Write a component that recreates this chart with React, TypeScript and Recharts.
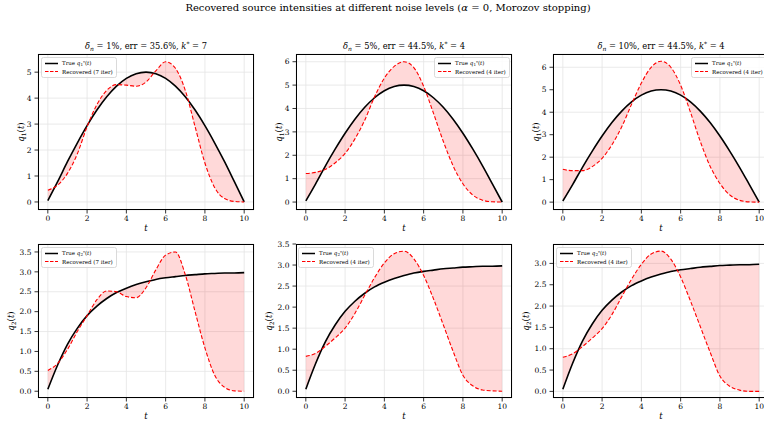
import React from 'react';
import { ComposedChart, Line, Area, XAxis, YAxis, CartesianGrid, Legend } from 'recharts';

// sample times
const T = [0, 0.5, 1, 1.5, 2, 2.5, 3, 3.5, 4, 4.5, 5, 5.5, 6, 6.5, 7, 7.5, 8, 8.5, 9, 9.5, 10];

// true sources
const Q1_TRUE = [0.05, 0.78, 1.55, 2.27, 2.94, 3.54, 4.05, 4.46, 4.76, 4.94, 5.0, 4.94, 4.76, 4.46, 4.05, 3.54, 2.94, 2.27, 1.55, 0.78, 0.0];
const Q2_TRUE = [0.05, 0.66, 1.18, 1.58, 1.9, 2.14, 2.33, 2.48, 2.59, 2.68, 2.75, 2.81, 2.85, 2.88, 2.91, 2.93, 2.95, 2.96, 2.97, 2.97, 2.98];

// recovered, per noise level
const Q1_REC_1 = [0.45, 0.65, 1.1, 1.85, 2.9, 3.75, 4.3, 4.52, 4.5, 4.46, 4.62, 5.05, 5.4, 5.15, 4.3, 2.9, 1.5, 0.55, 0.13, 0.02, 0.0];
const Q1_REC_5 = [1.22, 1.27, 1.4, 1.68, 2.08, 2.7, 3.5, 4.5, 5.3, 5.8, 6.0, 5.75, 4.95, 3.8, 2.6, 1.55, 0.78, 0.3, 0.08, 0.01, 0.0];
const Q1_REC_10 = [1.46, 1.4, 1.4, 1.58, 1.95, 2.55, 3.35, 4.35, 5.3, 6.0, 6.27, 6.0, 5.2, 4.0, 2.7, 1.6, 0.83, 0.32, 0.08, 0.01, 0.0];
const Q2_REC_1 = [0.52, 0.7, 1.05, 1.5, 1.9, 2.3, 2.52, 2.5, 2.38, 2.35, 2.6, 3.05, 3.42, 3.5, 2.93, 2.0, 1.09, 0.4, 0.1, 0.01, 0.0];
const Q2_REC_5 = [0.83, 0.9, 1.07, 1.27, 1.5, 1.85, 2.28, 2.7, 3.05, 3.27, 3.33, 3.15, 2.75, 2.2, 1.58, 0.95, 0.38, 0.13, 0.03, 0.01, 0.0];
const Q2_REC_10 = [0.8, 0.88, 1.05, 1.25, 1.47, 1.8, 2.22, 2.63, 2.98, 3.22, 3.29, 3.1, 2.68, 2.12, 1.52, 0.92, 0.36, 0.12, 0.03, 0.0, 0.0];

const NOISE = ['1%', '5%', '10%'];
const ERR = ['35.6%', '44.5%', '44.5%'];
const KSTAR = [7, 4, 4];

const X_TICKS = [0, 2, 4, 6, 8, 10];
const Q1_TICKS_A = [0, 1, 2, 3, 4, 5];
const Q1_TICKS_B = [0, 1, 2, 3, 4, 5, 6];
const Q2_TICKS_A = [0, 0.5, 1, 1.5, 2, 2.5, 3, 3.5];
const Q2_TICKS_B = [0, 0.5, 1, 1.5, 2, 2.5, 3];

const FONT = '"DejaVu Serif", serif';
const COL_LEFT = [38, 296, 553];
const PW = 216;

const panels = [
  { col: 0, top: 54, h: 156, comp: 1, tru: Q1_TRUE, rec: Q1_REC_1, dom: [-0.31, 5.7], ticks: Q1_TICKS_A, lgLeft: 43, ylDist: 17 },
  { col: 1, top: 54, h: 156, comp: 1, tru: Q1_TRUE, rec: Q1_REC_5, dom: [-0.34, 6.33], ticks: Q1_TICKS_B, lgLeft: 178, ylDist: 17 },
  { col: 2, top: 54, h: 156, comp: 1, tru: Q1_TRUE, rec: Q1_REC_10, dom: [-0.35, 6.59], ticks: Q1_TICKS_B, lgLeft: 178, ylDist: 17 },
  { col: 0, top: 244, h: 154, comp: 2, tru: Q2_TRUE, rec: Q2_REC_1, dom: [-0.17, 3.7], ticks: Q2_TICKS_A, lgLeft: 43, ylDist: 27 },
  { col: 1, top: 244, h: 154, comp: 2, tru: Q2_TRUE, rec: Q2_REC_5, dom: [-0.16, 3.5], ticks: Q2_TICKS_A, lgLeft: 42, ylDist: 27 },
  { col: 2, top: 244, h: 154, comp: 2, tru: Q2_TRUE, rec: Q2_REC_10, dom: [-0.155, 3.455], ticks: Q2_TICKS_B, lgLeft: 43, ylDist: 27 },
];

const YLab = (props: any) => {
  const { viewBox, sub, dist } = props;
  if (!viewBox) return null;
  const cx = viewBox.x + viewBox.width - dist;
  const cy = viewBox.y + viewBox.height / 2;
  return (
    <text x={cx} y={cy} transform={`rotate(-90 ${cx} ${cy})`} textAnchor="middle" dominantBaseline="central"
      fontFamily={FONT} fontSize={8.5} fill="#000">
      <tspan fontStyle="italic">q</tspan>
      <tspan fontSize={6} dy={2}>{sub}</tspan>
      <tspan dy={-2}>(</tspan>
      <tspan fontStyle="italic">t</tspan>
      <tspan>)</tspan>
    </text>
  );
};

const XLab = (props: any) => {
  const { viewBox } = props;
  if (!viewBox) return null;
  return (
    <text x={viewBox.x + viewBox.width / 2} y={viewBox.y + 21} textAnchor="middle" fontFamily={FONT}
      fontSize={8.5} fontStyle="italic" fill="#000">t</text>
  );
};

const LegendBox = ({ comp, iter }: { comp: number; iter: number }) => (
  <svg width={76} height={21} style={{ display: 'block' }}>
    <rect x={0.5} y={0.5} width={75} height={20} rx={2} fill="#fff" fillOpacity={0.85} stroke="#d0d0d0" strokeWidth={0.8} />
    <line x1={4} x2={17} y1={6.5} y2={6.5} stroke="#000" strokeWidth={1.5} />
    <line x1={4} x2={17} y1={14.5} y2={14.5} stroke="#ff0000" strokeWidth={1.2} strokeDasharray="3.5 1.5" />
    <text x={21} y={8.3} fontFamily={FONT} fontSize={5.5} fill="#000">
      True <tspan fontStyle="italic">q</tspan>
      <tspan fontSize={4} dy={1}>{comp}</tspan>
      <tspan fontSize={4} dy={-2.6}>*</tspan>
      <tspan dy={1.6}>(</tspan>
      <tspan fontStyle="italic">t</tspan>)
    </text>
    <text x={21} y={16.6} fontFamily={FONT} fontSize={5.5} fill="#000">Recovered ({iter} iter)</text>
  </svg>
);

const Panel = ({ p }: { p: any }) => {
  const data = T.map((t, i) => ({ t, tru: p.tru[i], rec: p.rec[i], band: [p.tru[i], p.rec[i]] }));
  const left = COL_LEFT[p.col];
  const W = 40 + PW + 6;
  const H = 6 + p.h + 34;
  const fmt = (v: number) => (p.comp === 2 ? v.toFixed(1) : String(v));
  return (
    <div style={{ position: 'absolute', left: left - 40, top: p.top - 6, width: W, height: H }}>
      <ComposedChart width={W} height={H} data={data} margin={{ top: 6, right: 6, left: 0, bottom: 0 }}>
        <CartesianGrid stroke="#e4e4e4" strokeWidth={0.8} />
        <XAxis dataKey="t" type="number" domain={[-0.5, 10.5]} ticks={X_TICKS} height={34} tickSize={3.5} tickMargin={2}
          axisLine={false} tickLine={{ stroke: '#000', strokeWidth: 0.8 }}
          tick={{ fontSize: 7.5, fill: '#000', fontFamily: FONT }} label={<XLab />} />
        <YAxis type="number" domain={p.dom} ticks={p.ticks} width={40} tickSize={3.5} tickMargin={3}
          allowDataOverflow axisLine={false} tickLine={{ stroke: '#000', strokeWidth: 0.8 }} tickFormatter={fmt}
          tick={{ fontSize: 7.5, fill: '#000', fontFamily: FONT }} label={<YLab sub={p.comp} dist={p.ylDist} />} />
        <Area dataKey="band" type="monotone" stroke="none" fill="#ff0000" fillOpacity={0.15}
          isAnimationActive={false} legendType="none" />
        <Line dataKey="tru" type="monotone" stroke="#000" strokeWidth={1.6} dot={false} activeDot={false}
          isAnimationActive={false} />
        <Line dataKey="rec" type="monotone" stroke="#ff0000" strokeWidth={1.1} strokeDasharray="4 2" dot={false}
          activeDot={false} isAnimationActive={false} />
        <Legend layout="horizontal" verticalAlign="middle" align="center"
          wrapperStyle={{ left: p.lgLeft, top: p.top === 54 ? 9 : 8.5, width: 76, height: 21, bottom: 'auto', right: 'auto' }}
          content={() => <LegendBox comp={p.comp} iter={KSTAR[p.col]} />} />
      </ComposedChart>
      <div style={{ position: 'absolute', left: 40, top: 6, width: PW, height: p.h, border: '1px solid #000',
        boxSizing: 'border-box', pointerEvents: 'none' }} />
      {p.comp === 1 && (
        <div style={{ position: 'absolute', left: 40, top: -8, width: PW, textAlign: 'center', fontFamily: FONT,
          fontSize: 8.3, lineHeight: '12px', whiteSpace: 'nowrap' }}>
          <i>δ</i><span style={{ fontSize: 6, fontStyle: 'italic', position: 'relative', top: 2 }}>n</span>
          {' '}= {NOISE[p.col]}, err = {ERR[p.col]}, <i>k</i>
          <span style={{ fontSize: 6, position: 'relative', top: -3 }}>*</span> = {KSTAR[p.col]}
        </div>
      )}
    </div>
  );
};

export default function App() {
  return (
    <div style={{ position: 'absolute', left: 0, top: 0, width: 764, height: 427, overflow: 'hidden',
      background: '#fff', fontFamily: FONT }}>
      <div style={{ position: 'absolute', left: 88, top: 1, width: 600, textAlign: 'center', fontSize: 10,
        lineHeight: '14px', whiteSpace: 'nowrap' }}>
        Recovered source intensities at different noise levels (<i>α</i> = 0, Morozov stopping)
      </div>
      {panels.map((p, i) => <Panel key={i} p={p} />)}
    </div>
  );
}
